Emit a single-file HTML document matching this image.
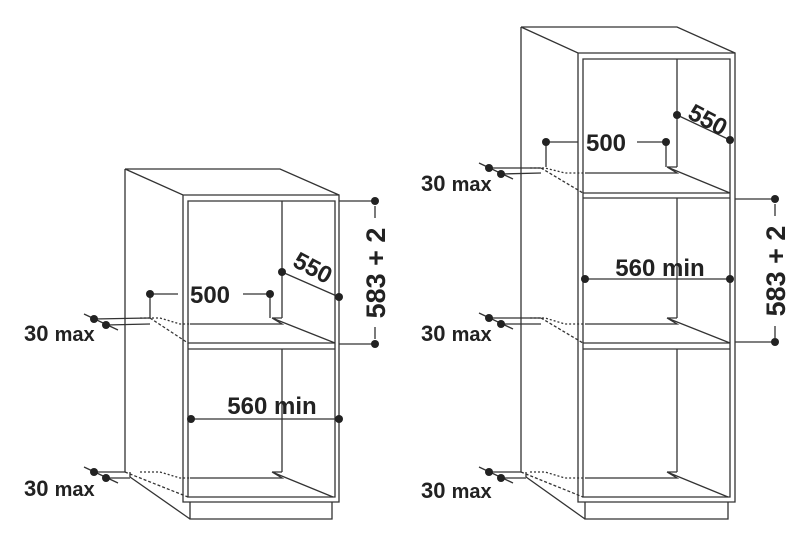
<!DOCTYPE html>
<html><head><meta charset="utf-8"><style>
html,body{margin:0;padding:0;background:#fff}
svg{display:block}
text{font-family:"Liberation Sans",sans-serif;font-weight:bold;fill:#222}
</style></head><body>
<svg width="800" height="546" viewBox="0 0 800 546" xmlns="http://www.w3.org/2000/svg">
<g stroke="#333" stroke-width="1.3" fill="none">
<!-- LEFT CABINET -->
<path d="M125,169 L280,169 L339,195 M125,169 L183,195 L339,195 L339,502 L183,502 L183,195 M125,169 L125,472"/>
<path d="M188,201 L335,201 L335,497 L188,497 Z"/>
<path d="M282,201 L282,318 M272,318 L282,318 M272,318 L282,324 L190,324 M272,318 L335,343"/>
<path d="M188,343 L335,343 M188,349 L335,349"/>
<path d="M282,349 L282,472 M272,472 L282,472 M272,472 L282,478 L190,478 M272,472 L333,497"/>
<path d="M190,502 L190,519 L332,519 L332,502 M130,477 L190,519 M130,477 L130,472"/>
<path d="M125,472 L188,497" stroke-dasharray="3,2"/>
<path d="M150,318 L188,343" stroke-dasharray="3,2"/>
<path d="M140,318 L160,318 L180,324 L190,324" stroke-dasharray="2,2"/>
<path d="M140,472 L160,472 L180,478 L190,478" stroke-dasharray="2,2"/>
<path d="M150,294 L178,294 M243,294 L270,294 M150,294 L150,318 M270,294 L270,318"/>
<path d="M282,272 L339,297"/>
<path d="M339,201 L375,201 M339,344 L375,344 M375,206 L375,218 M375,327 L375,339"/>
<path d="M191,419 L339,419"/>
<path d="M84,314 L118,330 M94,319 L150,318 M106,325 L150,324"/>
<path d="M84,467 L118,483 M94,472 L125,472 M106,478 L130,478"/>

<!-- RIGHT CABINET -->
<path d="M521,27 L677,27 L735,53 M521,27 L578,53 L735,53 L735,502 L578,502 L578,53 M521,27 L521,472"/>
<path d="M583,59 L730,59 L730,497 L583,497 Z"/>
<path d="M677,59 L677,167 M667,167 L677,167 M667,167 L677,173 L585,173 M667,167 L730,193"/>
<path d="M583,193 L730,193 M583,198 L730,198"/>
<path d="M677,198 L677,318 M667,318 L677,318 M667,318 L677,324 L585,324 M667,318 L730,343"/>
<path d="M583,343 L730,343 M583,349 L730,349"/>
<path d="M677,349 L677,472 M667,472 L677,472 M667,472 L677,478 L585,478 M667,472 L728,497"/>
<path d="M585,502 L585,519 L728,519 L728,502 M526,477 L585,519 M526,477 L526,472"/>
<path d="M521,472 L583,497 M541,168 L583,193 M541,318 L583,343" stroke-dasharray="3,2"/>
<path d="M530,168 L545,168 L565,173 L585,173 M530,318 L545,318 L565,324 L585,324 M530,472 L545,472 L565,478 L585,478" stroke-dasharray="2,2"/>
<path d="M546,142 L578,142 M637,142 L666,142 M546,142 L546,167 M666,142 L666,167"/>
<path d="M677,115 L730,140"/>
<path d="M735,199 L775,199 M735,342 L775,342 M775,204 L775,216 M775,326 L775,338"/>
<path d="M585,279 L730,279"/>
<path d="M479,163 L513,179 M489,168 L541,168 M501,174 L541,173"/>
<path d="M479,313 L513,329 M489,318 L541,318 M501,324 L541,324"/>
<path d="M479,467 L513,483 M489,472 L521,472 M501,478 L526,478"/>
</g>
<g fill="#222">
<circle cx="150" cy="294" r="4"/><circle cx="270" cy="294" r="4"/>
<circle cx="282" cy="272" r="4"/><circle cx="339" cy="297" r="4"/>
<circle cx="375" cy="201" r="4"/><circle cx="375" cy="344" r="4"/>
<circle cx="191" cy="419" r="4"/><circle cx="339" cy="419" r="4"/>
<circle cx="94" cy="319" r="4"/><circle cx="106" cy="325" r="4"/>
<circle cx="94" cy="472" r="4"/><circle cx="106" cy="478" r="4"/>
<circle cx="546" cy="142" r="4"/><circle cx="666" cy="142" r="4"/>
<circle cx="677" cy="115" r="4"/><circle cx="730" cy="140" r="4"/>
<circle cx="775" cy="199" r="4"/><circle cx="775" cy="342" r="4"/>
<circle cx="585" cy="279" r="4"/><circle cx="730" cy="279" r="4"/>
<circle cx="489" cy="168" r="4"/><circle cx="501" cy="174" r="4"/>
<circle cx="489" cy="318" r="4"/><circle cx="501" cy="324" r="4"/>
<circle cx="489" cy="472" r="4"/><circle cx="501" cy="478" r="4"/>
</g>
<g font-size="24">
<text x="210" y="303" text-anchor="middle">500</text>
<text x="606" y="151" text-anchor="middle">500</text>
<text x="272" y="414" text-anchor="middle">560 min</text>
<text x="660" y="276" text-anchor="middle">560 min</text>
<text transform="translate(309,275) rotate(28)" text-anchor="middle">550</text>
<text transform="translate(704,127) rotate(28)" text-anchor="middle">550</text>
</g>
<g font-size="27">
<text transform="translate(385,273) rotate(-90)" text-anchor="middle">583 + 2</text>
<text transform="translate(785,271) rotate(-90)" text-anchor="middle">583 + 2</text>
</g>
<g font-size="22">
<text x="24" y="341">30 <tspan font-size="20">max</tspan></text>
<text x="24" y="496">30 <tspan font-size="20">max</tspan></text>
<text x="421" y="191">30 <tspan font-size="20">max</tspan></text>
<text x="421" y="341">30 <tspan font-size="20">max</tspan></text>
<text x="421" y="498">30 <tspan font-size="20">max</tspan></text>
</g>
</svg>
</body></html>
